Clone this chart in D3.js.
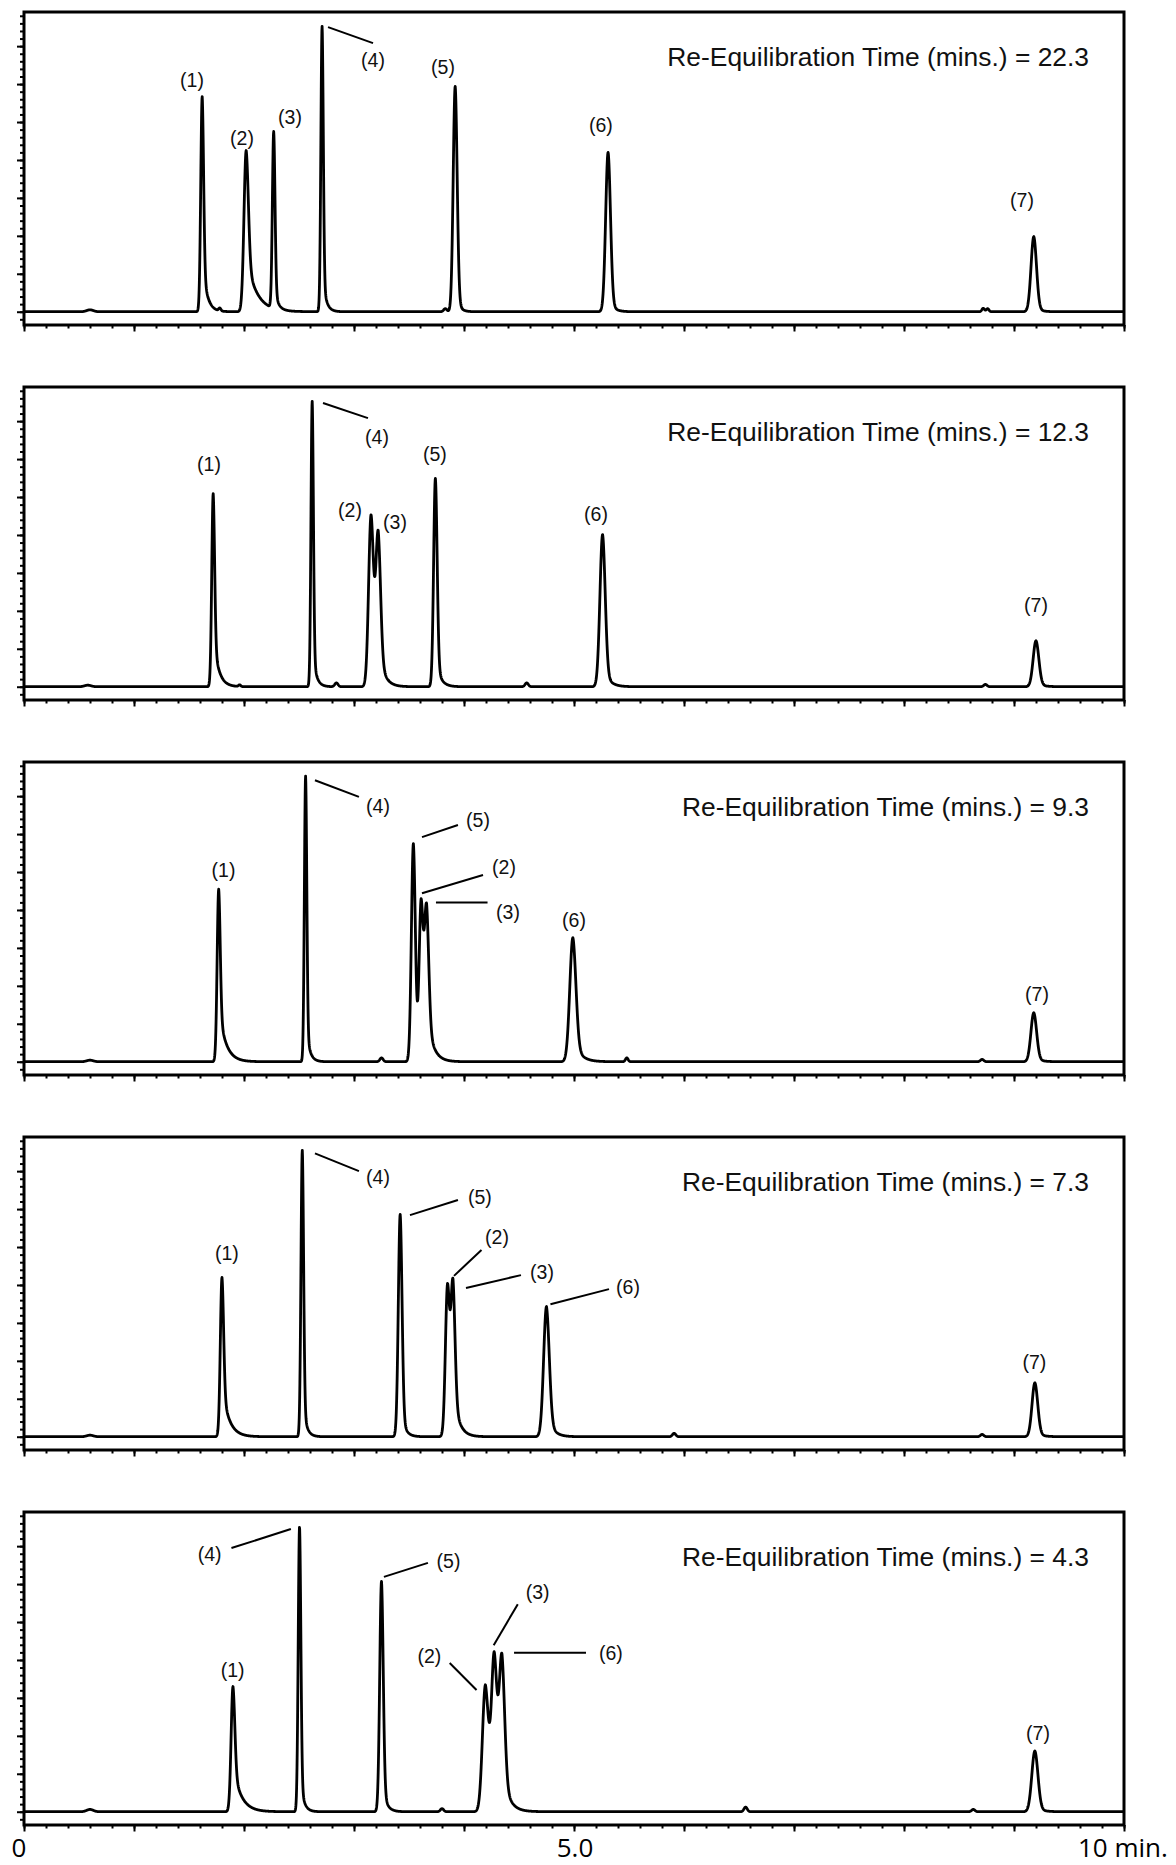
<!DOCTYPE html>
<html>
<head>
<meta charset="utf-8">
<script src="https://cdn.jsdelivr.net/npm/d3@7"></script>
<style>
  html, body { margin: 0; padding: 0; background: #fff; }
  svg { display: block; }
</style>
</head>
<body>
<svg id="chart" width="1176" height="1865"></svg>
<script>
// Re-equilibration time (min) of each stacked chromatogram, top to bottom
const equilibrationTimes = ["22.3", "12.3", "9.3", "7.3", "4.3"];

// Peak tables: [label, retention time (min), apex signal, sigma (min), tail fraction, tail decay (min)]
const run22 = [
  ["", 0.60, 0.5, 0.030, 0, 0.05],
  ["(1)", 1.62, 56.7, 0.013, 0.25, 0.04],
  ["", 1.78, 1.0, 0.010, 0, 0.05],
  ["(2)", 2.02, 42.5, 0.020, 0.35, 0.09],
  ["(3)", 2.27, 47.5, 0.012, 0.15, 0.03],
  ["(4)", 2.71, 75.2, 0.011, 0.15, 0.03],
  ["", 3.83, 0.8, 0.015, 0, 0.05],
  ["(5)", 3.92, 59.4, 0.018, 0.10, 0.03],
  ["(6)", 5.31, 42.0, 0.022, 0.10, 0.04],
  ["", 8.72, 0.9, 0.012, 0, 0.05],
  ["", 8.76, 0.8, 0.012, 0, 0.05],
  ["(7)", 9.18, 19.8, 0.025, 0.10, 0.04]
];
const run12 = [
  ["", 0.58, 0.4, 0.030, 0, 0.05],
  ["(1)", 1.72, 50.9, 0.013, 0.28, 0.045],
  ["", 1.96, 0.5, 0.010, 0, 0.05],
  ["(4)", 2.62, 75.2, 0.011, 0.15, 0.03],
  ["", 2.84, 1.0, 0.015, 0, 0.05],
  ["(2)", 3.155, 45.4, 0.022, 0.15, 0.04],
  ["(3)", 3.22, 41.2, 0.022, 0.25, 0.05],
  ["(5)", 3.74, 54.9, 0.016, 0.15, 0.04],
  ["", 4.57, 1.0, 0.015, 0, 0.05],
  ["(6)", 5.26, 40.1, 0.024, 0.15, 0.05],
  ["", 8.74, 0.6, 0.015, 0, 0.05],
  ["(7)", 9.20, 12.1, 0.026, 0.10, 0.05]
];
const run9 = [
  ["", 0.60, 0.4, 0.030, 0, 0.05],
  ["(1)", 1.77, 45.5, 0.014, 0.33, 0.06],
  ["(4)", 2.56, 75.3, 0.011, 0.15, 0.03],
  ["", 3.25, 1.0, 0.015, 0, 0.05],
  ["(5)", 3.54, 57.5, 0.018, 0.15, 0.03],
  ["(2)", 3.61, 43.0, 0.018, 0.20, 0.04],
  ["(3)", 3.66, 41.7, 0.020, 0.30, 0.055],
  ["(6)", 4.99, 32.7, 0.028, 0.20, 0.06],
  ["", 5.48, 1.0, 0.012, 0, 0.05],
  ["", 8.71, 0.6, 0.015, 0, 0.05],
  ["(7)", 9.18, 12.9, 0.026, 0.10, 0.05]
];
const run7 = [
  ["", 0.60, 0.4, 0.030, 0, 0.05],
  ["(1)", 1.80, 42.0, 0.015, 0.33, 0.06],
  ["(4)", 2.53, 75.5, 0.012, 0.15, 0.03],
  ["(5)", 3.42, 58.6, 0.017, 0.15, 0.035],
  ["(2)", 3.85, 40.4, 0.019, 0.15, 0.04],
  ["(3)", 3.90, 41.6, 0.019, 0.30, 0.05],
  ["(6)", 4.75, 34.3, 0.026, 0.20, 0.05],
  ["", 5.91, 0.9, 0.015, 0, 0.05],
  ["", 8.71, 0.6, 0.015, 0, 0.05],
  ["(7)", 9.19, 14.2, 0.026, 0.10, 0.05]
];
const run4 = [
  ["", 0.60, 0.6, 0.030, 0, 0.05],
  ["(1)", 1.90, 33.0, 0.017, 0.38, 0.07],
  ["(4)", 2.505, 75.2, 0.012, 0.15, 0.03],
  ["(5)", 3.25, 60.7, 0.016, 0.15, 0.035],
  ["", 3.80, 0.8, 0.015, 0, 0.05],
  ["(2)", 4.195, 33.5, 0.027, 0.40, 0.08],
  ["(3)", 4.275, 42.2, 0.024, 0.20, 0.05],
  ["(6)", 4.345, 41.7, 0.025, 0.25, 0.05],
  ["", 6.56, 1.2, 0.015, 0, 0.05],
  ["", 8.63, 0.6, 0.015, 0, 0.05],
  ["(7)", 9.19, 16.0, 0.028, 0.10, 0.05]
];

// Peak label anchors: [label, time (min), signal]
const labels22 = [["(1)", 1.527, 61.1], ["(2)", 1.982, 45.8], ["(3)", 2.418, 51.3], ["(4)", 3.173, 66.3], ["(5)", 3.809, 64.5], ["(6)", 5.245, 49.2], ["(7)", 9.073, 29.4]];
const labels12 = [["(1)", 1.682, 58.7], ["(4)", 3.209, 65.8], ["(2)", 2.964, 46.6], ["(3)", 3.373, 43.4], ["(5)", 3.736, 61.3], ["(6)", 5.200, 45.5], ["(7)", 9.200, 21.5]];
const labels9 = [["(1)", 1.814, 50.5], ["(4)", 3.218, 67.4], ["(5)", 4.127, 63.7], ["(2)", 4.364, 51.3], ["(3)", 4.400, 39.5], ["(6)", 5.000, 37.3], ["(7)", 9.209, 17.8]];
const labels7 = [["(1)", 1.845, 48.4], ["(4)", 3.218, 68.4], ["(5)", 4.145, 63.2], ["(2)", 4.300, 52.6], ["(3)", 4.709, 43.4], ["(6)", 5.491, 39.6], ["(7)", 9.186, 19.7]];
const labels4 = [["(4)", 1.688, 67.9], ["(1)", 1.897, 37.3], ["(5)", 3.859, 66.1], ["(3)", 4.670, 57.9], ["(2)", 3.685, 41.0], ["(6)", 5.336, 41.9], ["(7)", 9.218, 20.7]];

// Leader lines from a peak to its label: [t1, signal1, t2, signal2]
const leaders22 = [[2.764, 75.0, 3.173, 70.8]];
const leaders12 = [[2.718, 74.8, 3.127, 70.8]];
const leaders9 = [[2.645, 74.2, 3.045, 69.8], [3.618, 59.2, 3.945, 62.4], [3.618, 44.4, 4.173, 49.2], [3.745, 42.0, 4.214, 42.0]];
const leaders7 = [[2.645, 74.7, 3.045, 70.0], [3.509, 58.4, 3.945, 62.4], [3.909, 42.4, 4.159, 49.2], [4.018, 39.2, 4.518, 42.6], [4.786, 34.9, 5.318, 38.9]];
const leaders4 = [[1.886, 69.5, 2.426, 74.5], [3.272, 61.9, 3.672, 65.6], [4.270, 43.9, 4.489, 54.7], [3.870, 39.2, 4.114, 32.1], [4.455, 41.9, 5.109, 41.9]];

// Time axis labels on the bottom panel
const timeLabels = [[0, "0"], [5, "5.0"], [10, "10 min."]];

const runs = [run22, run12, run9, run7, run4];
const runLabels = [labels22, labels12, labels9, labels7, labels4];
const runLeaders = [leaders22, leaders12, leaders9, leaders7, leaders4];

// ---- layout ----
const svg = d3.select("#chart");
const plotLeft = 24, plotRight = 1124;
const panelTop0 = 12, panelStep = 375, panelH = 313;
const x = d3.scaleLinear().domain([0, 10]).range([plotLeft, plotRight]);
const signalDomain = [-3.5, 79];
const sansFont = "'Liberation Sans', Arial, Helvetica, sans-serif";

// Peak profile: Gaussian front, Gaussian + exponential tail behind the apex
function profile(p, t) {
  const t0 = p[1], s = p[3], r = p[4], tau = p[5];
  const d = t - t0;
  const g = Math.exp(-0.5 * (d / s) * (d / s));
  if (d <= 0) return g;
  return (1 - r) * g + r * Math.exp(-d / tau);
}

// Amplitudes so the summed trace passes through each tabulated apex height
function amplitudes(peaks) {
  const n = peaks.length;
  const M = peaks.map(pi => peaks.map(pj => profile(pj, pi[1])));
  const b = peaks.map(p => p[2]);
  for (let c = 0; c < n; c++) {
    let piv = c;
    for (let r = c + 1; r < n; r++) if (Math.abs(M[r][c]) > Math.abs(M[piv][c])) piv = r;
    [M[c], M[piv]] = [M[piv], M[c]];
    [b[c], b[piv]] = [b[piv], b[c]];
    for (let r = c + 1; r < n; r++) {
      const f = M[r][c] / M[c][c];
      for (let k = c; k < n; k++) M[r][k] -= f * M[c][k];
      b[r] -= f * b[c];
    }
  }
  const a = new Array(n).fill(0);
  for (let r = n - 1; r >= 0; r--) {
    let s = b[r];
    for (let k = r + 1; k < n; k++) s -= M[r][k] * a[k];
    a[r] = s / M[r][r];
  }
  return a;
}

const sampleTimes = d3.range(0, 10.0001, 0.002);

runs.forEach((peaks, i) => {
  const top = panelTop0 + i * panelStep;
  const bottom = top + panelH;
  const y = d3.scaleLinear().domain(signalDomain).range([bottom, top]);
  const g = svg.append("g");

  // clip for the trace
  const clipId = "clip" + i;
  svg.append("defs").append("clipPath").attr("id", clipId)
    .append("rect").attr("x", plotLeft).attr("y", top).attr("width", plotRight - plotLeft).attr("height", panelH);

  // trace
  const amp = amplitudes(peaks);
  const trace = sampleTimes.map(t => {
    let v = 0;
    peaks.forEach((p, j) => { v += amp[j] * profile(p, t); });
    return [t, v];
  });
  g.append("path")
    .datum(trace)
    .attr("clip-path", `url(#${clipId})`)
    .attr("fill", "none")
    .attr("stroke", "#000")
    .attr("stroke-width", 2.8)
    .attr("stroke-linejoin", "round")
    .attr("d", d3.line().x(d => x(d[0])).y(d => y(d[1])));

  // y ticks (no labels)
  const yMinor = d3.axisLeft(y).tickValues(d3.range(-2, 79, 2)).tickSize(4).tickFormat("");
  const yMajor = d3.axisLeft(y).tickValues(d3.range(0, 71, 10)).tickSize(7).tickFormat("");
  [yMinor, yMajor].forEach(ax => {
    const a = g.append("g").attr("transform", `translate(${plotLeft},0)`).call(ax);
    a.select(".domain").remove();
    a.selectAll("line").attr("stroke", "#000").attr("stroke-width", 2);
  });

  // x ticks
  const xMinor = d3.axisBottom(x).tickValues(d3.range(0, 10.001, 0.2)).tickSize(3.5).tickFormat("");
  const xMajor = d3.axisBottom(x).tickValues(d3.range(0, 10.001, 1)).tickSize(6.5).tickFormat("");
  [xMinor, xMajor].forEach(ax => {
    const a = g.append("g").attr("transform", `translate(0,${bottom})`).call(ax);
    a.select(".domain").remove();
    a.selectAll("line").attr("stroke", "#000").attr("stroke-width", 2);
  });

  // frame
  g.append("rect")
    .attr("x", plotLeft).attr("y", top)
    .attr("width", plotRight - plotLeft).attr("height", panelH)
    .attr("fill", "none").attr("stroke", "#000").attr("stroke-width", 3);

  // leaders
  g.selectAll("line.leader").data(runLeaders[i]).join("line")
    .attr("class", "leader")
    .attr("x1", d => x(d[0])).attr("y1", d => y(d[1]))
    .attr("x2", d => x(d[2])).attr("y2", d => y(d[3]))
    .attr("stroke", "#000").attr("stroke-width", 2);

  // peak labels
  const lblSize = 19.5;
  g.selectAll("text.peak").data(runLabels[i]).join("text")
    .attr("class", "peak")
    .attr("x", d => x(d[1]))
    .attr("y", d => y(d[2]) + lblSize * 0.36)
    .attr("text-anchor", "middle")
    .attr("font-family", sansFont)
    .attr("font-size", lblSize)
    .attr("fill", "#111")
    .text(d => d[0]);

  // run title
  const titleSize = 26.4;
  g.append("text")
    .attr("x", 1089)
    .attr("y", top + 44 + titleSize * 0.36)
    .attr("text-anchor", "end")
    .attr("font-family", sansFont)
    .attr("font-size", titleSize)
    .attr("fill", "#111")
    .text(`Re-Equilibration Time (mins.) = ${equilibrationTimes[i]}`);

  // time axis labels on the last panel
  if (i === runs.length - 1) {
    const axSize = 26;
    const offsets = { "0": [-5, "middle"], "5.0": [1, "middle"], "10 min.": [-46, "start"] };
    g.selectAll("text.time").data(timeLabels).join("text")
      .attr("class", "time")
      .attr("x", d => x(d[0]) + offsets[d[1]][0])
      .attr("y", 1857)
      .attr("text-anchor", d => offsets[d[1]][1])
      .attr("font-family", "'Open Sans', 'Noto Sans', sans-serif")
      .attr("font-size", axSize)
      .attr("fill", "#000")
      .text(d => d[1]);
  }
});
</script>
</body>
</html>
